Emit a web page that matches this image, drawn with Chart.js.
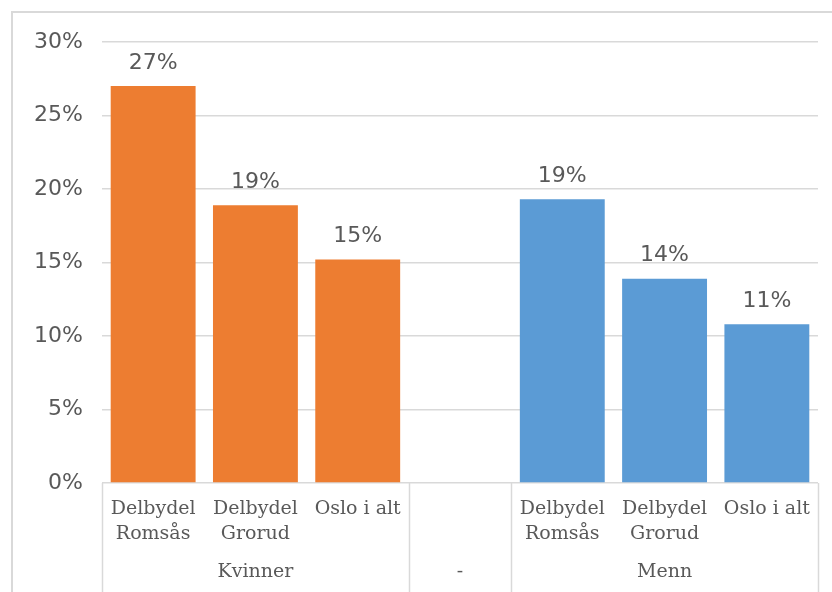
<!DOCTYPE html>
<html>
<head>
<meta charset="utf-8">
<script src="https://cdn.jsdelivr.net/npm/chart.js@4"></script>
<style>
    body { margin: 0; background: #fff; }
    #wrap { position: relative; width: 832px; height: 592px; overflow: hidden; }
    #frame { position: absolute; left: 11px; top: 11px; width: 900px; height: 700px; border: 2px solid #d9d9d9; box-sizing: border-box; }
    #chart { position: absolute; left: 0; top: 0; }
</style>
</head>
<body>
<div id="wrap">
    <div id="frame"></div>
    <canvas id="chart" width="832" height="592"></canvas>
</div>
<script>
// data
const categories = [['Delbydel', 'Romsås'], ['Delbydel', 'Grorud'], 'Oslo i alt', '', ['Delbydel', 'Romsås'], ['Delbydel', 'Grorud'], 'Oslo i alt'];
const values = [27.0, 18.9, 15.2, null, 19.3, 13.9, 10.8];
const barColors = ['#ED7D31', '#ED7D31', '#ED7D31', '#ED7D31', '#5B9BD5', '#5B9BD5', '#5B9BD5'];
const groupLabels = ['Kvinner', '-', 'Menn'];
const groupSizes = [3, 1, 3];
const yTicks = [0, 5, 10, 15, 20, 25, 30];

const textColor = '#595959';
const lineColor = '#d9d9d9';

// data labels above bars
const valueLabels = {
    id: 'valueLabels',
    afterDatasetsDraw(chart) {
        const ctx = chart.ctx;
        const meta = chart.getDatasetMeta(0);
        ctx.save();
        ctx.font = '22px "DejaVu Sans"';
        ctx.fillStyle = textColor;
        ctx.textAlign = 'center';
        ctx.textBaseline = 'bottom';
        meta.data.forEach((bar, i) => {
            if (values[i] == null) return;
            ctx.fillText(Math.round(values[i]) + '%', bar.x, bar.y - 12);
        });
        ctx.restore();
    }
};

// second category level: separators + group names
const groupAxis = {
    id: 'groupAxis',
    afterDraw(chart) {
        const ctx = chart.ctx;
        const x = chart.scales.x;
        const area = chart.chartArea;
        const bottom = chart.height;
        const edge = idx => {
            if (idx <= 0) return area.left;
            if (idx >= categories.length) return area.right;
            return (x.getPixelForTick(idx - 1) + x.getPixelForTick(idx)) / 2;
        };
        ctx.save();
        ctx.strokeStyle = lineColor;
        ctx.lineWidth = 1.5;
        let start = 0;
        const bounds = [0];
        groupSizes.forEach(n => { start += n; bounds.push(start); });
        bounds.forEach(b => {
            const px = Math.round(edge(b)) + 0.5;
            ctx.beginPath();
            ctx.moveTo(px, area.bottom);
            ctx.lineTo(px, bottom);
            ctx.stroke();
        });
        ctx.font = '19px "DejaVu Serif"';
        ctx.fillStyle = textColor;
        ctx.textAlign = 'center';
        ctx.textBaseline = 'middle';
        groupLabels.forEach((label, g) => {
            const mid = (edge(bounds[g]) + edge(bounds[g + 1])) / 2;
            ctx.fillText(label, mid, area.bottom + 89);
        });
        ctx.restore();
    }
};

new Chart(document.getElementById('chart'), {
    type: 'bar',
    data: {
        labels: categories,
        datasets: [{
            data: values,
            backgroundColor: barColors,
            borderWidth: 0,
            categoryPercentage: 1,
            barPercentage: 0.83
        }]
    },
    options: {
        responsive: false,
        animation: false,
        layout: { padding: { left: 12, right: 14, top: 42, bottom: 0 } },
        plugins: {
            legend: { display: false },
            tooltip: { enabled: false }
        },
        scales: {
            x: {
                grid: { display: false },
                border: { display: false },
                ticks: {
                    color: textColor,
                    font: { family: 'DejaVu Serif', size: 19, lineHeight: 1.3 },
                    padding: 6,
                    maxRotation: 0,
                    autoSkip: false
                },
                afterFit(scale) { scale.height = 109; }
            },
            y: {
                min: 0,
                max: 30,
                afterBuildTicks(scale) { scale.ticks = yTicks.map(v => ({ value: v })); },
                grid: { color: lineColor, lineWidth: 1.5, drawTicks: false },
                border: { display: false },
                ticks: {
                    color: textColor,
                    font: { family: 'DejaVu Sans', size: 22 },
                    padding: 19,
                    callback: v => v + '%'
                },
                afterFit(scale) { scale.width = 90; }
            }
        }
    },
    plugins: [valueLabels, groupAxis]
});
</script>
</body>
</html>
